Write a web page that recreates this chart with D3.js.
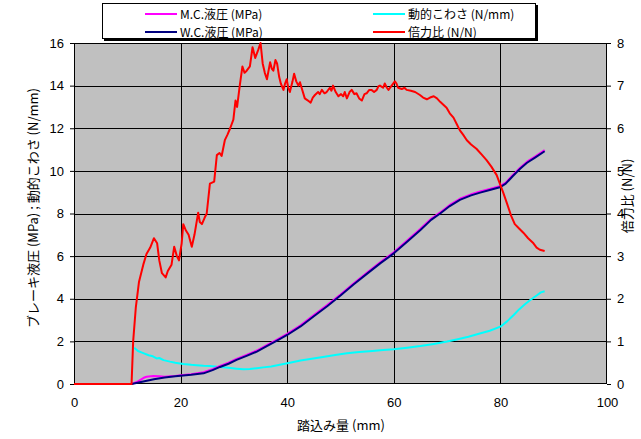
<!DOCTYPE html>
<html>
<head>
<meta charset="utf-8">
<script src="https://cdn.jsdelivr.net/npm/d3@7"></script>
<style>
  body { margin: 0; background: #fff; }
  text { font-family: "Liberation Sans", Arial, sans-serif; }
  .jp { font-family: "Noto Sans CJK JP", sans-serif; }
</style>
</head>
<body>
<div id="chart"></div>
<script>
// series names, in legend order
const seriesNames = ["M.C.液圧 (MPa)", "W.C.液圧 (MPa)", "動的こわさ (N/mm)", "倍力比 (N/N)"];
const seriesColors = ["#ff00ff", "#000080", "#00ffff", "#ff0000"];

// M.C. liquid pressure (MPa)
const mcX = [0, 10.8, 12, 13, 13.6, 14.9, 16, 17, 18, 19, 20, 22, 24.3, 26, 27.4, 29, 30.5, 32.5, 34.3, 36, 38, 40, 42.5, 45, 47.5, 50, 52.5, 55, 57.5, 60, 62.5, 65, 67, 68.7, 70.5, 72.4, 74.5, 76.2, 78, 79.9, 81, 82.3, 83.7, 85, 86.5, 88.3];
const mcY = [0, 0, 0.12, 0.28, 0.34, 0.37, 0.36, 0.34, 0.36, 0.38, 0.41, 0.46, 0.55, 0.7, 0.85, 1.0, 1.18, 1.38, 1.57, 1.8, 2.07, 2.35, 2.75, 3.23, 3.7, 4.2, 4.73, 5.23, 5.72, 6.18, 6.73, 7.28, 7.75, 8.05, 8.4, 8.69, 8.9, 9.03, 9.15, 9.28, 9.45, 9.8, 10.15, 10.43, 10.67, 10.97];

// W.C. liquid pressure (MPa)
const wcX = [0, 10.8, 13, 15, 17, 19, 20, 22, 24.3, 26, 27.4, 29, 30.5, 32.5, 34.3, 36, 38, 40, 42.5, 45, 47.5, 50, 52.5, 55, 57.5, 60, 62.5, 65, 67, 68.7, 70.5, 72.4, 74.5, 76.2, 78, 79.9, 81, 82.3, 83.7, 85, 86.5, 88.3];
const wcY = [0, 0, 0.12, 0.22, 0.3, 0.36, 0.39, 0.43, 0.5, 0.65, 0.8, 0.95, 1.13, 1.33, 1.52, 1.75, 2.02, 2.3, 2.7, 3.18, 3.65, 4.15, 4.68, 5.18, 5.67, 6.13, 6.68, 7.23, 7.7, 8.0, 8.35, 8.64, 8.85, 8.98, 9.1, 9.23, 9.4, 9.75, 10.1, 10.38, 10.62, 10.92];

// dynamic stiffness (N/mm)
const stX = [11.3, 12, 13, 14, 14.8, 15.5, 16, 16.8, 18, 19, 20.5, 22, 23, 24.3, 25.5, 26.8, 28, 29, 30.5, 31.8, 33, 34.3, 35.5, 37, 38.6, 40.5, 42.5, 44.9, 47, 49, 51.2, 53.5, 56, 58, 60, 62.5, 65, 67.5, 70, 72, 74, 76.3, 78, 80, 81.3, 82.5, 83.5, 84.5, 85.6, 86.8, 87.6, 88.3];
const stY = [1.7, 1.55, 1.45, 1.35, 1.3, 1.2, 1.22, 1.12, 1.05, 1.0, 0.94, 0.9, 0.88, 0.86, 0.85, 0.81, 0.78, 0.76, 0.72, 0.69, 0.7, 0.74, 0.78, 0.82, 0.9, 1.0, 1.1, 1.2, 1.28, 1.36, 1.44, 1.5, 1.55, 1.6, 1.63, 1.7, 1.78, 1.88, 1.99, 2.1, 2.22, 2.38, 2.5, 2.69, 2.95, 3.24, 3.5, 3.72, 3.94, 4.15, 4.3, 4.35];

// servo ratio (N/N), right axis
const srX = [0, 10.8, 11.1, 11.6, 12.2, 13.0, 13.6, 14.3, 15.0, 15.6, 16.0, 16.5, 17.2, 17.6, 18.3, 18.8, 19.3, 19.7, 20.2, 20.5, 21.0, 21.5, 22.1, 22.6, 23.3, 23.6, 24.0, 24.5, 24.9, 25.5, 26.3, 26.8, 27.3, 27.7, 28.3, 28.8, 29.3, 29.9, 30.3, 30.6, 31.1, 31.6, 32.0, 32.4, 33.0, 33.5, 34.0, 34.3, 34.6, 35.0, 35.4, 35.8, 36.2, 36.8, 37.1, 37.4, 37.8, 38.1, 38.5, 38.8, 39.3, 39.6, 39.9, 40.2, 40.5, 41.0, 41.3, 41.7, 42.1, 42.4, 42.7, 43.3, 43.9, 44.4, 44.8, 45.2, 45.8, 46.1, 46.5, 47.0, 47.4, 48.0, 48.3, 48.6, 49.1, 49.6, 50.1, 50.5, 50.8, 51.2, 51.7, 52.1, 52.6, 53.0, 53.5, 54.0, 54.5, 54.9, 55.4, 55.8, 56.3, 56.8, 57.1, 57.4, 58.0, 58.3, 58.7, 59.0, 59.6, 60.2, 60.5, 60.8, 61.5, 62.0, 62.4, 63.2, 64.0, 64.9, 65.5, 66.2, 66.8, 67.5, 68.1, 68.7, 69.3, 69.9, 70.5, 71.2, 71.8, 72.4, 73.0, 73.7, 74.5, 75.5, 76.5, 77.4, 78.3, 79.3, 79.9, 80.5, 81.2, 82.0, 82.7, 83.5, 84.3, 85.2, 86.2, 86.8, 87.4, 88.3];
const srY = [0, 0, 1.0, 1.8, 2.4, 2.8, 3.05, 3.2, 3.42, 3.3, 2.9, 2.6, 2.5, 2.65, 2.8, 3.22, 3.0, 2.9, 3.3, 3.75, 3.6, 3.5, 3.22, 3.5, 4.02, 3.8, 3.75, 3.9, 4.0, 4.7, 4.75, 5.37, 5.42, 5.35, 5.72, 5.85, 6.0, 6.2, 6.65, 6.5, 7.0, 7.45, 7.3, 7.35, 7.45, 7.9, 7.65, 7.75, 7.85, 8.0, 7.52, 7.3, 7.15, 7.55, 7.4, 7.35, 7.6, 7.52, 7.2, 7.05, 6.9, 7.05, 7.15, 6.95, 6.85, 7.1, 7.28, 7.1, 7.0, 7.08, 6.95, 6.7, 6.65, 6.6, 6.72, 6.78, 6.85, 6.8, 6.9, 6.82, 6.85, 6.95, 6.88, 7.0, 6.85, 6.75, 6.8, 6.75, 6.85, 6.7, 6.85, 6.9, 6.8, 6.82, 6.7, 6.65, 6.8, 6.82, 6.9, 6.9, 6.85, 6.9, 6.98, 7.0, 6.95, 7.05, 6.95, 6.9, 7.0, 7.1, 7.05, 6.95, 6.92, 6.95, 6.9, 6.88, 6.85, 6.78, 6.72, 6.68, 6.72, 6.75, 6.7, 6.62, 6.55, 6.48, 6.35, 6.25, 6.1, 5.95, 5.85, 5.72, 5.62, 5.52, 5.38, 5.25, 5.1, 4.9, 4.7, 4.5, 4.25, 3.95, 3.75, 3.65, 3.55, 3.42, 3.3, 3.2, 3.15, 3.12];

const xTicks = [0, 20, 40, 60, 80, 100];
const yLeftTicks = [0, 2, 4, 6, 8, 10, 12, 14, 16];
const yRightTicks = [0, 1, 2, 3, 4, 5, 6, 7, 8];

const W = 641, H = 439;
const m = { left: 74, top: 43, right: 34, bottom: 55 };
const w = W - m.left - m.right, h = H - m.top - m.bottom;

const svg = d3.select("#chart").append("svg")
    .attr("width", W).attr("height", H);

const g = svg.append("g")
    .attr("transform", "translate(" + m.left + "," + m.top + ")");

const x = d3.scaleLinear().domain([0, 100]).range([0, w]);
const yL = d3.scaleLinear().domain([0, 16]).range([h, 0]);
const yR = d3.scaleLinear().domain([0, 8]).range([h, 0]);

// plot background
g.append("rect")
    .attr("width", w).attr("height", h)
    .attr("fill", "#c0c0c0");

// grid
g.append("g").selectAll("line").data(yLeftTicks.slice(1, -1)).enter()
  .append("line")
    .attr("x1", 0).attr("x2", w)
    .attr("y1", d => Math.round(yL(d)) + 0.5).attr("y2", d => Math.round(yL(d)) + 0.5)
    .attr("stroke", "#000");
g.append("g").selectAll("line").data(xTicks.slice(1, -1)).enter()
  .append("line")
    .attr("y1", 0).attr("y2", h)
    .attr("x1", d => Math.round(x(d)) + 0.5).attr("x2", d => Math.round(x(d)) + 0.5)
    .attr("stroke", "#000");

// axes
const axX = g.append("g").attr("transform", "translate(0," + h + ")")
    .call(d3.axisBottom(x).tickValues(xTicks).tickSize(0).tickPadding(14));
const axL = g.append("g")
    .call(d3.axisLeft(yL).tickValues(yLeftTicks).tickSize(4).tickPadding(6));
const axR = g.append("g").attr("transform", "translate(" + w + ",0)")
    .call(d3.axisRight(yR).tickValues(yRightTicks).tickSize(4).tickPadding(6));
[axX, axL, axR].forEach(a => {
  a.select(".domain").remove();
  a.selectAll("text").attr("font-size", 13).attr("fill", "#000")
    .attr("font-family", "'Liberation Sans', Arial, sans-serif");
  a.selectAll("line").attr("stroke", "#000");
});

// border
g.append("rect")
    .attr("x", 0.5).attr("y", 0.5)
    .attr("width", w - 1).attr("height", h - 1)
    .attr("fill", "none").attr("stroke", "#000");

// lines
function drawLine(xs, ys, ys2, color, width) {
  const pts = xs.map((v, i) => [v, ys[i]]);
  const line = d3.line().x(d => x(d[0])).y(d => ys2(d[1]));
  g.append("path").datum(pts)
    .attr("d", line)
    .attr("fill", "none")
    .attr("stroke", color)
    .attr("stroke-width", width)
    .attr("stroke-linejoin", "round");
}
drawLine(stX, stY, yL, seriesColors[2], 2);
drawLine(mcX, mcY, yL, seriesColors[0], 2);
drawLine(wcX, wcY, yL, seriesColors[1], 2);
drawLine(srX, srY, yR, seriesColors[3], 2);

// axis titles
svg.append("text").attr("class", "jp")
    .attr("x", 341).attr("y", 430)
    .attr("text-anchor", "middle").attr("font-size", 13)
    .text("踏込み量 (mm)");
svg.append("text").attr("class", "jp")
    .attr("transform", "translate(38,208) rotate(-90)")
    .attr("text-anchor", "middle").attr("font-size", 13)
    .text("ブレーキ液圧 (MPa) ; 動的こわさ (N/mm)");
svg.append("text").attr("class", "jp")
    .attr("transform", "translate(632,196) rotate(-90)")
    .attr("text-anchor", "middle").attr("font-size", 13)
    .text("倍力比 (N/N)");

// legend
const lg = svg.append("g");
lg.append("rect").attr("x", 104).attr("y", 5).attr("width", 434).attr("height", 36).attr("fill", "#000");
lg.append("rect").attr("x", 102.5).attr("y", 3.5).attr("width", 433).attr("height", 35)
    .attr("fill", "#fff").attr("stroke", "#000");
const legPos = [[145, 14], [145, 32], [373, 14], [373, 32]];
seriesNames.forEach((n, i) => {
  const [lx, ly] = legPos[i];
  lg.append("line").attr("x1", lx).attr("x2", lx + 32).attr("y1", ly).attr("y2", ly)
      .attr("stroke", seriesColors[i]).attr("stroke-width", 2);
  lg.append("text").attr("class", "jp")
      .attr("x", lx + 35).attr("y", ly + 4.5).attr("font-size", 12)
      .text(n);
});
</script>
</body>
</html>
